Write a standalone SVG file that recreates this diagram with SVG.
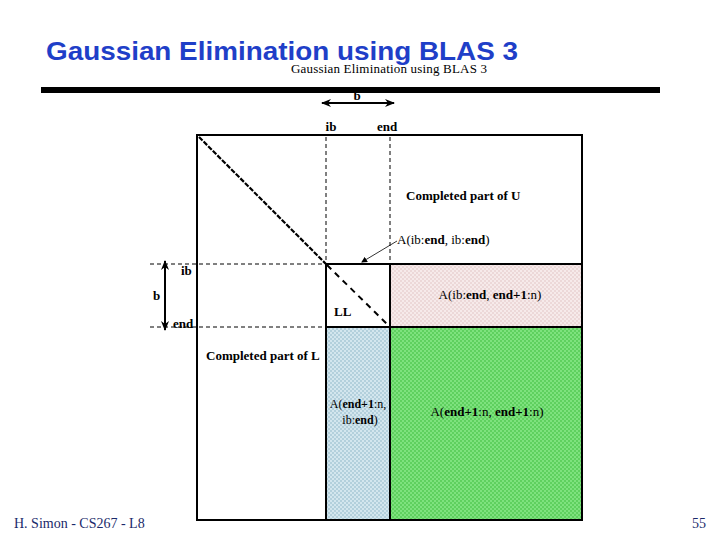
<svg xmlns="http://www.w3.org/2000/svg" width="720" height="540" viewBox="0 0 720 540">
<style>
.title{font-family:"Liberation Sans",Arial,sans-serif;font-weight:bold;font-size:26px;fill:#1f3fc8}
.s{font-family:"Liberation Serif","Times New Roman",serif;font-size:13px;fill:#000}
.b{font-family:"Liberation Serif","Times New Roman",serif;font-size:13px;font-weight:bold;fill:#000}
.foot{font-family:"Liberation Serif","Times New Roman",serif;font-size:14px;fill:#1a2a6a}
.dash{stroke:#000;stroke-width:1;stroke-dasharray:4,3;fill:none}
.solid{stroke:#000;stroke-width:2;fill:none}
</style>
<defs>
<pattern id="pk" width="4" height="4" patternUnits="userSpaceOnUse"><rect width="4" height="4" fill="#f6eaea"/><rect width="2" height="2" fill="#ecd8d8"/><rect x="2" y="2" width="2" height="2" fill="#ecd8d8"/></pattern>
<pattern id="bl" width="4" height="4" patternUnits="userSpaceOnUse"><rect width="4" height="4" fill="#d3e6ee"/><rect width="2" height="2" fill="#b3d0dc"/><rect x="2" y="2" width="2" height="2" fill="#b3d0dc"/></pattern>
<pattern id="gr" width="4" height="4" patternUnits="userSpaceOnUse"><rect width="4" height="4" fill="#7ee27e"/><rect width="2" height="2" fill="#5fd05f"/><rect x="2" y="2" width="2" height="2" fill="#5fd05f"/></pattern>
<marker id="ah" markerWidth="10" markerHeight="8" refX="9" refY="4" orient="auto" markerUnits="userSpaceOnUse"><path d="M0,0 L10,4 L0,8 L3,4 z" fill="#000"/></marker>
<marker id="sm" markerWidth="6" markerHeight="6" refX="5" refY="3" orient="auto" markerUnits="userSpaceOnUse"><path d="M0,0 L6,3 L0,6 z" fill="#000"/></marker>
</defs>
<g id="header">
<text class="title" x="46" y="60" textLength="472" lengthAdjust="spacingAndGlyphs">Gaussian Elimination using BLAS 3</text>
<text x="291" y="73" textLength="196" style="font-family:'Liberation Serif',serif;font-size:13px;fill:#000">Gaussian Elimination using BLAS 3</text>
<rect x="41" y="87" width="619" height="6" fill="#000"/>
</g>
<g id="regions">
<rect x="390" y="264" width="192" height="63" fill="url(#pk)"/>
<rect x="326" y="327" width="64" height="193" fill="url(#bl)"/>
<rect x="390" y="327" width="192" height="193" fill="url(#gr)"/>
</g>
<g id="connectors">
<line class="dash" x1="326" y1="137" x2="326" y2="264"/>
<line class="dash" x1="390" y1="137" x2="390" y2="264"/>
<line class="dash" x1="150" y1="264" x2="326" y2="264"/>
<line class="dash" x1="150" y1="327" x2="326" y2="327"/>
<line x1="199" y1="137" x2="326" y2="264" stroke="#000" stroke-width="2.2" stroke-dasharray="5,1.5"/>
<line x1="327" y1="265" x2="389" y2="326" stroke="#000" stroke-width="2" stroke-dasharray="6,5"/>
<line x1="397" y1="241" x2="362" y2="262" stroke="#000" stroke-width="0.8" marker-end="url(#sm)"/>
<line x1="358" y1="103" x2="322" y2="103" stroke="#000" stroke-width="2" marker-end="url(#ah)"/>
<line x1="358" y1="103" x2="394" y2="103" stroke="#000" stroke-width="2" marker-end="url(#ah)"/>
<line x1="165" y1="296" x2="165" y2="261" stroke="#000" stroke-width="2" marker-end="url(#ah)"/>
<line x1="165" y1="296" x2="165" y2="330" stroke="#000" stroke-width="2" marker-end="url(#ah)"/>
</g>
<g id="matrix">
<rect class="solid" x="197" y="135" width="385" height="385"/>
<line class="solid" x1="326" y1="264" x2="582" y2="264"/>
<line class="solid" x1="326" y1="327" x2="582" y2="327"/>
<line class="solid" x1="326" y1="264" x2="326" y2="520"/>
<line class="solid" x1="390" y1="264" x2="390" y2="520"/>
</g>
<g id="labels">
<text class="b" x="357" y="100" text-anchor="middle">b</text>
<text class="b" x="331" y="131" text-anchor="middle">ib</text>
<text class="b" x="387" y="131" text-anchor="middle">end</text>
<text class="b" x="406" y="200">Completed part of U</text>
<text class="s" x="397" y="244">A(ib:<tspan font-weight="bold">end</tspan>, ib:<tspan font-weight="bold">end</tspan>)</text>
<text class="s" x="490" y="299" text-anchor="middle">A(ib:<tspan font-weight="bold">end</tspan>, <tspan font-weight="bold">end+1</tspan>:n)</text>
<text class="b" x="334" y="316">LL</text>
<text class="b" x="181" y="275">ib</text>
<text class="b" x="153" y="300">b</text>
<text class="b" x="173" y="328">end</text>
<text class="b" x="206" y="360">Completed part of L</text>
<text class="s" x="358" y="408" text-anchor="middle" style="font-size:12px">A(<tspan font-weight="bold">end+1</tspan>:n,</text>
<text class="s" x="360" y="424" text-anchor="middle" style="font-size:12px">ib:<tspan font-weight="bold">end</tspan>)</text>
<text class="s" x="487" y="416" text-anchor="middle">A(<tspan font-weight="bold">end+1</tspan>:n, <tspan font-weight="bold">end+1</tspan>:n)</text>
</g>
<g id="footer">
<text class="foot" x="14" y="528">H. Simon - CS267 - L8</text>
<text class="foot" x="706" y="528" text-anchor="end">55</text>
</g>
</svg>
